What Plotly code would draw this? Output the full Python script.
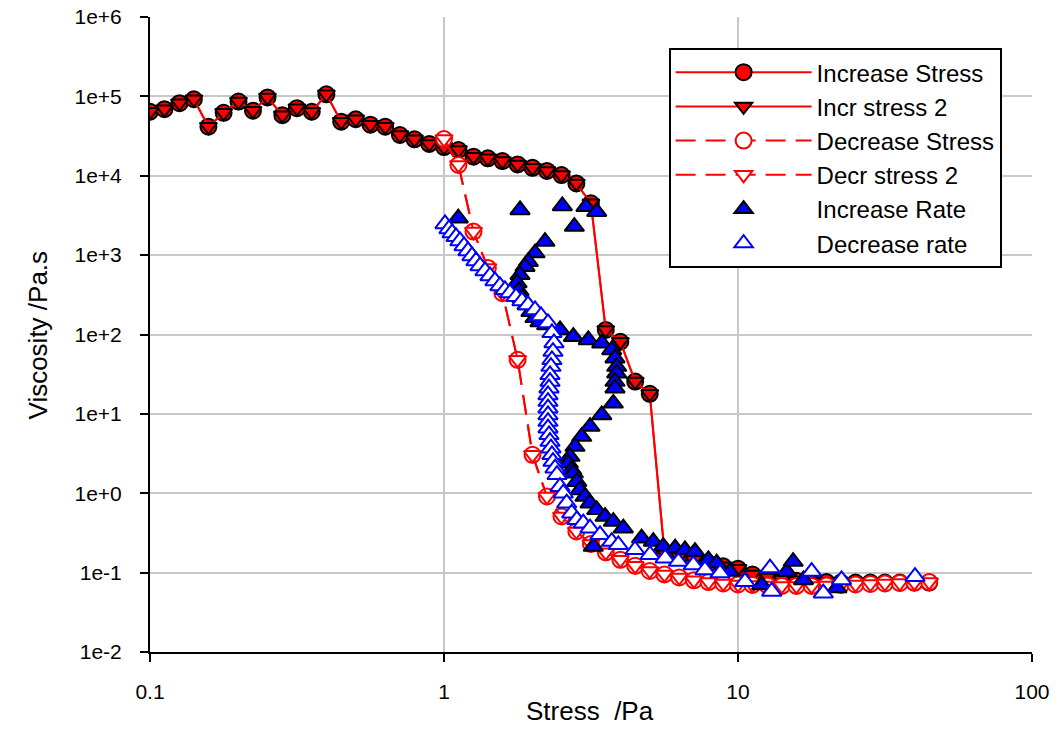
import plotly.graph_objects as go

# ---------------- data ----------------
inc_stress_x = [0.1, 0.112, 0.126, 0.141, 0.158, 0.178, 0.2, 0.224, 0.251, 0.282,
                0.316, 0.355, 0.398, 0.447, 0.501, 0.562, 0.631, 0.708, 0.794, 0.891,
                1.0, 1.12, 1.26, 1.41, 1.58, 1.78, 2.0, 2.24, 2.51, 2.82,
                3.16, 3.55, 3.98, 4.47, 5.01, 5.62, 6.31, 7.08, 7.94, 8.91,
                10.0, 11.2, 12.6, 14.1, 15.8, 17.8, 20.0, 22.4, 25.1, 28.2,
                31.6, 35.5, 39.8, 44.7]
inc_stress_y = [64000, 69000, 82000, 92000, 41500, 62000, 86000, 66000, 97000, 58000,
                71000, 64000, 106000, 48000, 51500, 44000, 41500, 32600, 28800, 25200,
                23000, 21100, 17400, 16600, 15300, 13900, 12600, 11500, 10200, 8000,
                4500, 114, 81, 25.5, 17.9, 0.18, 0.16, 0.145, 0.13, 0.12,
                0.112, 0.095, 0.087, 0.082, 0.079, 0.077, 0.076, 0.075, 0.075, 0.075,
                0.075, 0.075, 0.075, 0.075]

incr2_x = inc_stress_x
incr2_y = inc_stress_y

dec_stress_x = [1.0, 1.12, 1.26, 1.41, 1.58, 1.78, 2.0, 2.24, 2.51, 2.82,
                3.16, 3.55, 3.98, 4.47, 5.01, 5.62, 6.31, 7.08, 7.94, 8.91,
                10.0, 11.2, 12.6, 14.1, 15.8, 17.8, 20.0, 22.4, 25.1, 28.2,
                31.6, 35.5, 39.8, 44.7]
dec_stress_y = [29000, 13700, 1980, 690, 331, 48, 3.05, 0.91, 0.51, 0.33,
                0.23, 0.18, 0.145, 0.122, 0.105, 0.095, 0.087, 0.08, 0.076, 0.073,
                0.071, 0.07, 0.069, 0.068, 0.068, 0.068, 0.069, 0.07, 0.071, 0.072,
                0.073, 0.074, 0.075, 0.076]

decr2_x = dec_stress_x
decr2_y = dec_stress_y

inc_rate_x = [1.118, 1.814, 2.526, 2.775, 3.04, 3.307, 2.206, 2.04, 1.935, 1.886,
              1.814, 1.772, 1.80, 1.842, 1.916, 1.976, 2.04, 2.121, 2.235, 2.481,
              2.754, 3.096, 3.44, 3.72, 3.816, 3.868, 3.868, 3.816, 3.816, 3.766,
              3.44, 3.138, 2.94, 2.79, 2.683, 2.647, 2.719, 2.754, 2.829, 2.90,
              3.016, 3.138, 3.307, 3.53, 3.766, 4.073, 4.70, 5.15, 5.57, 6.11,
              6.60, 7.14, 7.93, 8.46, 9.39, 12.04, 14.65, 15.4, 16.7, 21.7, 3.22]
inc_rate_y = [2920, 3710, 4170, 2290, 4080, 3530, 1480, 1060, 828, 716,
              564, 447, 354, 289, 236, 194, 162, 144, 132, 114,
              94, 85.5, 77.7, 64, 50.3, 39.4, 32.6, 25.5, 21.1, 13.6,
              9.7, 6.92, 5.18, 3.87, 2.9, 2.39, 1.97, 1.79, 1.40, 1.10,
              0.91, 0.75, 0.618, 0.509, 0.44, 0.363, 0.272, 0.246, 0.213, 0.204,
              0.194, 0.184, 0.145, 0.132, 0.103, 0.070, 0.103, 0.138, 0.081, 0.064, 0.213]

dec_rate_x = [1.008, 1.04, 1.065, 1.099, 1.133, 1.17, 1.207, 1.245, 1.285, 1.326,
              1.379, 1.434, 1.491, 1.55, 1.612, 1.677, 1.758, 1.842, 1.931, 2.04,
              2.138, 2.258, 2.329, 2.366, 2.348, 2.329, 2.311, 2.294, 2.294, 2.276,
              2.258, 2.258, 2.258, 2.258, 2.258, 2.258, 2.276, 2.294, 2.311, 2.329,
              2.348, 2.386, 2.423, 2.481, 2.545, 2.614, 2.719, 2.83, 2.977, 3.138,
              3.393, 3.72, 3.916, 4.464, 5.02, 5.65, 6.27, 7.05, 7.72, 8.69,
              10.56, 12.85, 13.02, 17.8, 19.5, 22.5, 40.0]
dec_rate_y = [2470, 2140, 1900, 1700, 1510, 1305, 1130, 977, 845, 731,
              632, 547, 473, 409, 365, 334, 298, 265, 236, 204,
              171, 140, 105, 78.4, 61, 47.9, 39.4, 31, 25.5, 21.1,
              17.3, 14.3, 11.8, 9.7, 8.0, 6.6, 5.44, 4.48, 3.70, 3.05,
              2.51, 2.07, 1.71, 1.21, 1.0, 0.75, 0.561, 0.462, 0.42, 0.363,
              0.299, 0.246, 0.224, 0.194, 0.168, 0.152, 0.138, 0.125, 0.108, 0.0986,
              0.077, 0.114, 0.058, 0.103, 0.055, 0.081, 0.089]

x_tickvals = [0.1, 1, 10, 100]
x_ticktext = ["0.1", "1", "10", "100"]
y_tickvals = [1e-2, 1e-1, 1e0, 1e1, 1e2, 1e3, 1e4, 1e5, 1e6]
y_ticktext = ["1e-2", "1e-1", "1e+0", "1e+1", "1e+2", "1e+3", "1e+4", "1e+5", "1e+6"]

x_title = "Stress  /Pa"
y_title = "Viscosity /Pa.s"

# ---------------- figure ----------------
RED = "#ff0000"
BLUE = "#0000ff"
CS = 16   # circle size
TS = 17   # triangle size
DASH = "20px,10px"

fig = go.Figure()
fig.add_trace(go.Scatter(
    x=inc_stress_x, y=inc_stress_y, name="Increase Stress", mode="lines+markers",
    line=dict(color=RED, width=2),
    marker=dict(symbol="circle", size=CS, color=RED, line=dict(color="black", width=2))))
fig.add_trace(go.Scatter(
    x=incr2_x, y=incr2_y, name="Incr stress 2", mode="lines+markers",
    line=dict(color=RED, width=2),
    marker=dict(symbol="triangle-down", size=TS - 2, color=RED, line=dict(color="black", width=2))))
fig.add_trace(go.Scatter(
    x=dec_stress_x, y=dec_stress_y, name="Decrease Stress", mode="lines+markers",
    line=dict(color=RED, width=2, dash=DASH),
    marker=dict(symbol="circle", size=CS, color="white", line=dict(color=RED, width=2))))
fig.add_trace(go.Scatter(
    x=decr2_x, y=decr2_y, name="Decr stress 2", mode="lines+markers",
    line=dict(color=RED, width=2, dash=DASH),
    marker=dict(symbol="triangle-down", size=TS - 2, color="white", line=dict(color=RED, width=2))))
fig.add_trace(go.Scatter(
    x=inc_rate_x, y=inc_rate_y, name="Increase Rate", mode="markers",
    marker=dict(symbol="triangle-up", size=TS, color=BLUE, line=dict(color="black", width=2))))
fig.add_trace(go.Scatter(
    x=dec_rate_x, y=dec_rate_y, name="Decrease rate", mode="markers",
    marker=dict(symbol="triangle-up", size=TS, color="white", line=dict(color=BLUE, width=2))))

FONT = "Liberation Sans, Arial, sans-serif"

fig.update_layout(
    width=1061, height=751,
    margin=dict(l=150, r=29, t=17, b=99, autoexpand=False),
    paper_bgcolor="white", plot_bgcolor="white",
    font=dict(family=FONT, color="black", size=22),
    showlegend=True,
    legend=dict(
        x=0.588, y=0.951, xanchor="left", yanchor="top",
        bordercolor="black", borderwidth=2, bgcolor="white",
        font=dict(size=24, family=FONT),
        itemwidth=136, traceorder="normal",
    ),
    xaxis=dict(
        type="log", range=[-1, 2], automargin=False,
        tickvals=x_tickvals, ticktext=x_ticktext,
        showgrid=True, gridcolor="#c8c8c8", gridwidth=2,
        showline=True, linecolor="black", linewidth=2,
        ticks="outside", ticklen=8, tickwidth=2, tickcolor="black",
        tickfont=dict(size=21, family=FONT), ticklabelstandoff=12,
        zeroline=False, mirror=False,
    ),
    yaxis=dict(
        type="log", range=[-2, 6], automargin=False,
        tickvals=y_tickvals, ticktext=y_ticktext,
        showgrid=True, gridcolor="#c8c8c8", gridwidth=2,
        showline=True, linecolor="black", linewidth=2,
        ticks="outside", ticklen=8, tickwidth=2, tickcolor="black",
        tickfont=dict(size=21, family=FONT), ticklabelstandoff=14,
        zeroline=False, mirror=False,
    ),
    annotations=[
        dict(text=x_title, xref="paper", yref="paper", x=0.499, y=-0.093,
             xanchor="center", yanchor="middle", showarrow=False,
             font=dict(size=26, family=FONT)),
        dict(text=y_title, xref="paper", yref="paper", x=-0.127, y=0.5,
             xanchor="center", yanchor="middle", showarrow=False, textangle=-90,
             font=dict(size=26, family=FONT)),
    ],
)

fig.write_html("out.html", config={"displayModeBar": False},
               post_script="document.body.style.margin='0';")
